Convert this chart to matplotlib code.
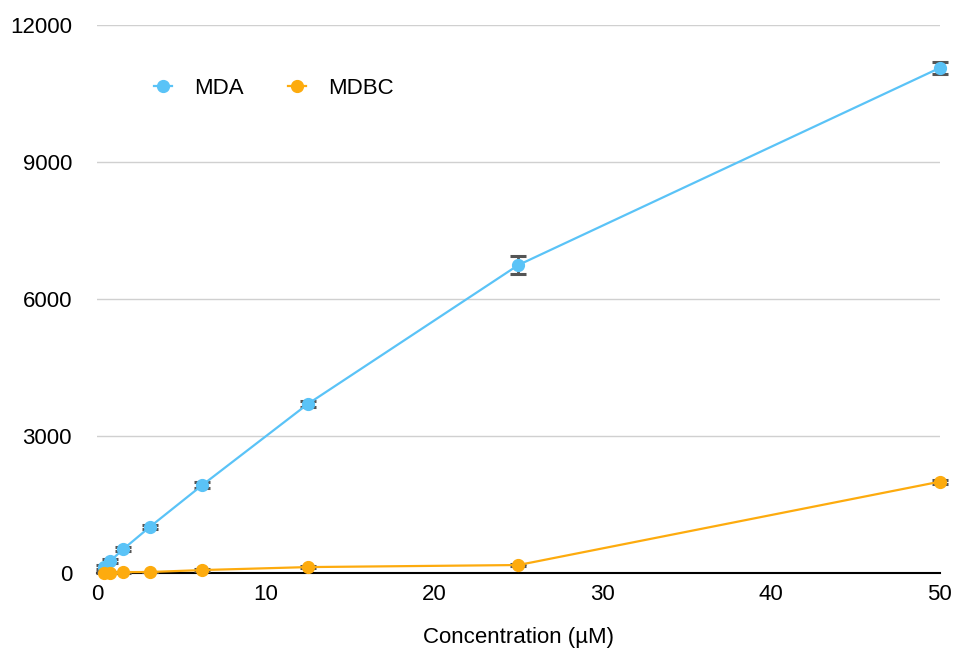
import matplotlib
matplotlib.use("Agg")
import matplotlib.pyplot as plt

conc = [0.390625, 0.78125, 1.5625, 3.125, 6.25, 12.5, 25, 50]
mda = [131, 263, 525, 1007, 1927, 3700, 6745, 11060]
mda_err = [40, 40, 40, 40, 60, 70, 190, 130]
mdbc = [5, 10, 20, 22, 65, 130, 175, 2000]
mdbc_err = [10, 10, 10, 10, 15, 20, 25, 40]

yticks = [0, 3000, 6000, 9000, 12000]
xticks = [0, 10, 20, 30, 40, 50]

plt.rcParams['font.family'] = ['Liberation Sans', 'DejaVu Sans']

fig = plt.figure(figsize=(9.56, 6.48), dpi=100)
ax = fig.add_axes([0.1015, 0.1157, 0.8815, 0.8457])

blue = '#5ac3f7'
orange = '#fdab0e'
errc = '#555555'

ax.errorbar(conc, mda, yerr=mda_err, color=blue, lw=1.6, marker='o', ms=8.5,
            ecolor=errc, elinewidth=2, capsize=6, capthick=2.2, label='MDA', zorder=3)
ax.errorbar(conc, mdbc, yerr=mdbc_err, color=orange, lw=1.6, marker='o', ms=8.5,
            ecolor=errc, elinewidth=2, capsize=6, capthick=2.2, label='MDBC', zorder=3)

ax.set_xlim(0, 50)
ax.set_ylim(0, 12000)
ax.set_xticks(xticks)
ax.set_yticks(yticks)
for line in ax.get_lines():
    line.set_clip_on(False)
for coll in ax.collections:
    coll.set_clip_on(False)

ax.yaxis.grid(True, color='#d0d0d0', lw=1)
ax.set_axisbelow(True)
for s in ['top', 'right', 'left']:
    ax.spines[s].set_visible(False)
ax.spines['bottom'].set_color('black')
ax.spines['bottom'].set_linewidth(1.5)
ax.spines['bottom'].set_zorder(2)
ax.tick_params(axis='both', length=0, labelsize=16, colors='black')
ax.tick_params(axis='y', pad=18)
ax.tick_params(axis='x', pad=8)
ax.set_xlabel('Concentration (µM)', fontsize=16, labelpad=16)

h, l = ax.get_legend_handles_labels()
h = [hh[0] for hh in h]
leg = ax.legend(h, l, loc='upper left', bbox_to_anchor=(0.044, 0.94), ncol=2, frameon=False,
                fontsize=16, handlelength=0.8, columnspacing=2.0, handletextpad=1.0)

fig.savefig('out.png', dpi=100)
